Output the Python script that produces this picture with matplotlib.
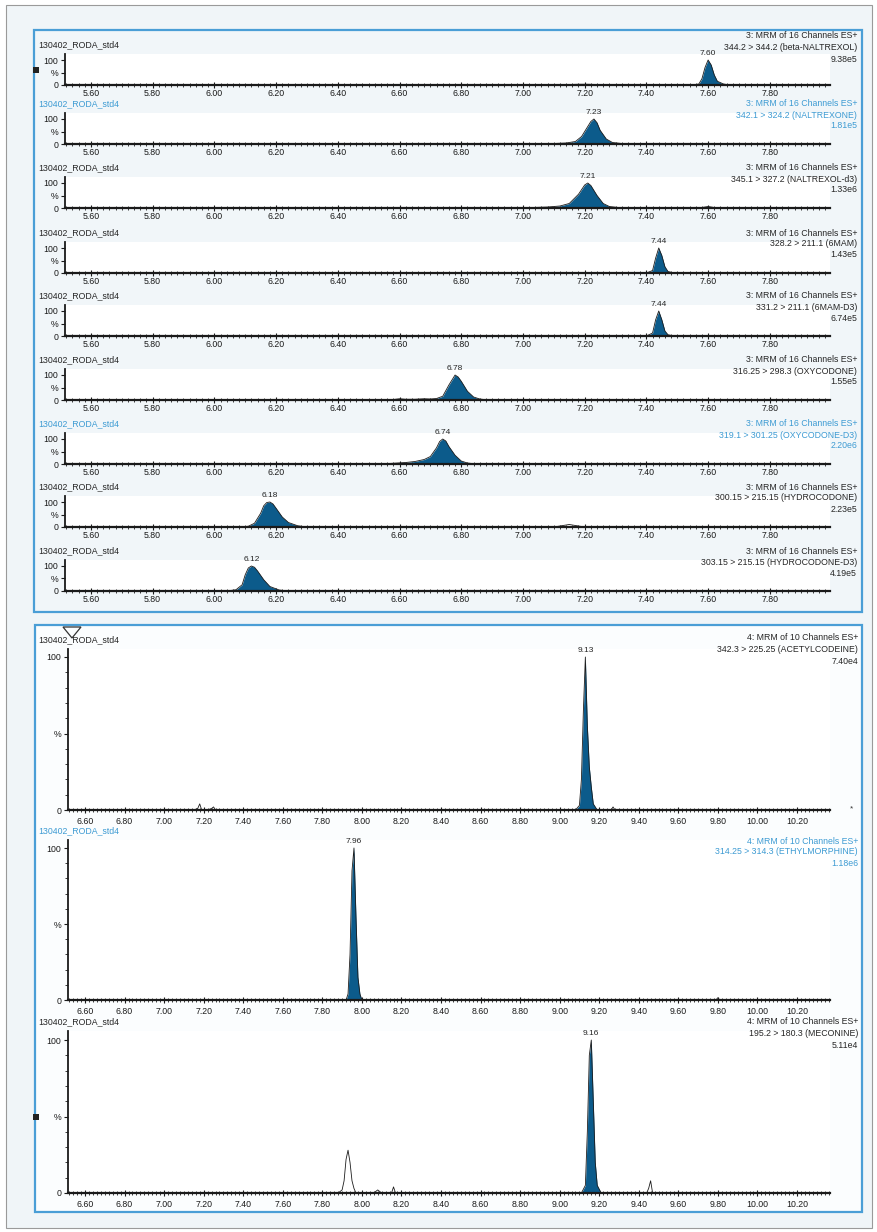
import matplotlib
matplotlib.use("Agg")
import matplotlib.pyplot as plt
from matplotlib.patches import Rectangle, Polygon
from matplotlib.ticker import MultipleLocator, FormatStrFormatter, FixedLocator
import numpy as np

plt.rcParams['font.family'] = ['Liberation Sans', 'DejaVu Sans']

W, H = 877, 1232
SAMPLE = "130402_RODA_std4"
INK = "#262626"
BLUE_TXT = "#3d9bd3"
FILL = "#0c5b8b"
FRAME = "#4a9ed6"

# ---------------- function 3: MRM of 16 channels ----------------
f3_channels = ["344.2 > 344.2 (beta-NALTREXOL)",
               "342.1 > 324.2 (NALTREXONE)",
               "345.1 > 327.2 (NALTREXOL-d3)",
               "328.2 > 211.1 (6MAM)",
               "331.2 > 211.1 (6MAM-D3)",
               "316.25 > 298.3 (OXYCODONE)",
               "319.1 > 301.25 (OXYCODONE-D3)",
               "300.15 > 215.15 (HYDROCODONE)",
               "303.15 > 215.15 (HYDROCODONE-D3)"]
f3_scale = ["9.38e5", "1.81e5", "1.33e6", "1.43e5", "6.74e5",
            "1.55e5", "2.20e6", "2.23e5", "4.19e5"]
f3_rt = [7.60, 7.23, 7.21, 7.44, 7.44, 6.78, 6.74, 6.18, 6.12]
f3_blue = [False, True, False, False, False, False, True, False, False]
f3_area = [(7.57, 7.66), (7.12, 7.33), (7.05, 7.31), (7.40, 7.49), (7.40, 7.49),
           (6.72, 6.88), (6.58, 6.83), (6.10, 6.28), (6.06, 6.22)]

f3_t = [
    [5.52, 7.12, 7.15, 7.18, 7.21, 7.24, 7.27, 7.55, 7.57, 7.58, 7.59, 7.60, 7.61, 7.62, 7.63, 7.65, 7.67, 8.0],
    [5.52, 7.00, 7.05, 7.10, 7.14, 7.17, 7.19, 7.21, 7.22, 7.23, 7.24, 7.25, 7.27, 7.29, 7.32, 7.36, 8.0],
    [5.52, 6.98, 7.03, 7.08, 7.12, 7.15, 7.18, 7.20, 7.21, 7.22, 7.24, 7.26, 7.28, 7.31, 7.35, 7.57, 7.60, 7.63, 8.0],
    [5.52, 7.40, 7.42, 7.43, 7.44, 7.45, 7.46, 7.47, 7.49, 8.0],
    [5.52, 7.40, 7.42, 7.43, 7.44, 7.45, 7.46, 7.47, 7.49, 8.0],
    [5.52, 6.40, 6.45, 6.50, 6.55, 6.58, 6.60, 6.62, 6.65, 6.68, 6.70, 6.72, 6.74, 6.76, 6.78, 6.79, 6.80, 6.82, 6.84, 6.86, 6.88, 6.90, 6.92, 8.0],
    [5.52, 6.50, 6.55, 6.58, 6.62, 6.65, 6.68, 6.70, 6.72, 6.73, 6.74, 6.75, 6.76, 6.78, 6.80, 6.82, 6.85, 8.0],
    [5.52, 6.08, 6.11, 6.13, 6.15, 6.16, 6.17, 6.18, 6.19, 6.20, 6.22, 6.24, 6.27, 6.30, 7.10, 7.15, 7.20, 8.0],
    [5.52, 6.04, 6.07, 6.09, 6.10, 6.11, 6.12, 6.13, 6.14, 6.16, 6.18, 6.21, 6.24, 8.0],
]
f3_i = [
    [0, 0, 2, 3, 3, 2, 0, 0, 4, 25, 70, 100, 80, 40, 15, 4, 0, 0],
    [0, 0, 1, 2, 4, 10, 30, 70, 90, 100, 85, 55, 20, 6, 2, 0, 0],
    [0, 0, 2, 4, 8, 18, 55, 92, 100, 90, 50, 18, 6, 2, 0, 0, 6, 0, 0],
    [0, 0, 10, 60, 100, 70, 25, 6, 0, 0],
    [0, 0, 12, 65, 100, 65, 20, 5, 0, 0],
    [0, 0, 1, 1, 2, 2, 5, 3, 3, 5, 4, 6, 15, 60, 100, 92, 75, 35, 12, 4, 1, 2, 0, 0],
    [0, 0, 1, 3, 6, 10, 18, 30, 65, 90, 100, 92, 70, 35, 12, 4, 0, 0],
    [0, 0, 3, 15, 55, 85, 98, 100, 92, 75, 40, 18, 5, 0, 0, 10, 0, 0],
    [0, 0, 5, 25, 65, 92, 100, 95, 80, 45, 18, 4, 0, 0],
]

# ---------------- function 4: MRM of 10 channels ----------------
f4_channels = ["342.3 > 225.25 (ACETYLCODEINE)",
               "314.25 > 314.3 (ETHYLMORPHINE)",
               "195.2 > 180.3 (MECONINE)"]
f4_scale = ["7.40e4", "1.18e6", "5.11e4"]
f4_rt = [9.13, 7.96, 9.16]
f4_blue = [False, True, False]
f4_area = [(9.09, 9.19), (7.92, 8.00), (9.11, 9.21)]

f4_t = [
    [6.514, 7.15, 7.17, 7.18, 7.19, 7.22, 7.24, 7.25, 7.26, 9.08, 9.10, 9.11, 9.12, 9.13, 9.14, 9.15, 9.16, 9.17, 9.19, 9.26, 9.27, 9.28, 10.367],
    [6.514, 7.92, 7.93, 7.94, 7.95, 7.96, 7.97, 7.98, 7.99, 8.00, 9.79, 9.80, 9.81, 10.367],
    [6.514, 7.88, 7.90, 7.91, 7.92, 7.93, 7.94, 7.95, 7.96, 7.97, 8.06, 8.08, 8.10, 8.15, 8.16, 8.17,
     9.11, 9.13, 9.14, 9.15, 9.16, 9.17, 9.18, 9.19, 9.21, 9.44, 9.45, 9.46, 9.47, 10.367],
]
f4_i = [
    [0, 0, 1, 4, 0, 0, 1, 2, 0, 0, 3, 20, 65, 100, 55, 28, 15, 4, 0, 0, 2, 0, 0],
    [0, 0, 4, 30, 85, 100, 55, 15, 4, 0, 0, 1.5, 0, 0],
    [0, 0, 2, 8, 22, 28, 20, 8, 3, 0, 0, 2, 0, 0, 4, 0,
     0, 5, 40, 90, 100, 60, 20, 5, 0, 0, 3, 8, 0, 0],
]

fig = plt.figure(figsize=(W / 100, H / 100), dpi=100)
fig.patch.set_facecolor("#ffffff")


def frac_rect(x0, y0, x1, y1):
    return [x0 / W, 1 - y1 / H, (x1 - x0) / W, (y1 - y0) / H]


def fig_text(x, y, s, **kw):
    fig.text(x / W, 1 - y / H, s, **kw)


# page and frames (kept beneath the axes)
fig.add_artist(Rectangle((6 / W, 1 - 1228 / H), 866 / W, 1223 / H, transform=fig.transFigure,
                         facecolor="#f0f5f8", edgecolor="#9a9a9a", lw=0.8, zorder=-3))
for (x0, y0, x1, y1, fc) in [(34, 30, 862, 612, "#f1f6f9"), (35, 625, 862, 1212, "#fbfdfe")]:
    fig.add_artist(Rectangle((x0 / W, 1 - y1 / H), (x1 - x0) / W, (y1 - y0) / H,
                             transform=fig.transFigure, facecolor=fc, edgecolor="none",
                             zorder=-2))
    fig.add_artist(Rectangle((x0 / W, 1 - y1 / H), (x1 - x0) / W, (y1 - y0) / H,
                             transform=fig.transFigure, facecolor="none", edgecolor=FRAME,
                             lw=1.6, zorder=5))


def style_axes(ax, xlim, ylim, major_len=4, pad=1.2):
    ax.set_xlim(*xlim)
    ax.set_ylim(*ylim)
    ax.set_facecolor("white")
    for s in ("top", "right"):
        ax.spines[s].set_visible(False)
    ax.spines["bottom"].set_linewidth(1.6)
    ax.spines["left"].set_linewidth(1.3)
    ax.spines["bottom"].set_color("#1a1a1a")
    ax.spines["left"].set_color("#1a1a1a")
    ax.xaxis.set_major_locator(MultipleLocator(0.2))
    ax.xaxis.set_minor_locator(MultipleLocator(0.02))
    ax.xaxis.set_major_formatter(FormatStrFormatter("%.2f"))
    ax.tick_params(axis="x", which="major", direction="inout", length=major_len, width=0.8,
                   labelsize=6.3, pad=pad, colors="#1a1a1a")
    ax.tick_params(axis="x", which="minor", direction="inout", length=2.6, width=0.6,
                   colors="#1a1a1a")
    ax.tick_params(axis="y", which="major", direction="out", length=3, width=0.8,
                   labelsize=6.3, pad=2, colors="#1a1a1a")
    ax.tick_params(axis="y", which="minor", direction="out", length=2, width=0.6,
                   colors="#1a1a1a")
    ax.set_yticks([0, 50, 100])
    ax.set_yticklabels(["0", "%", "100"])


def draw_trace(ax, t, y, area, rt):
    t = np.asarray(t, float)
    y = np.asarray(y, float)
    m = (t >= area[0]) & (t <= area[1])
    ax.fill_between(t, 0, y, where=m, interpolate=True, color=FILL, lw=0, zorder=2)
    ax.plot(t, y, color="#1c1c1c", lw=0.6, zorder=3, solid_joinstyle="round")
    ax.annotate(f"{rt:.2f}", xy=(rt, 100), xytext=(0, 2.5), textcoords="offset points",
                ha="center", va="bottom", fontsize=6.0, color=INK, annotation_clip=False)


# ---- function 3 panels ----
f3_head = [45, 104, 168, 233, 296, 360, 424, 487, 551]
f3_lines = [(36, 48, 60)] + [(h, h + 11, h + 22) for h in f3_head[1:]]
for k in range(9):
    h = f3_head[k]
    ax = fig.add_axes(frac_rect(65, h + 9, 830, h + 40))
    style_axes(ax, (5.516, 7.995), (0, 124))
    draw_trace(ax, f3_t[k], f3_i[k], f3_area[k], f3_rt[k])
    col = BLUE_TXT if f3_blue[k] else INK
    fig_text(38, h, SAMPLE, fontsize=6.3, color=col, va="center", ha="left")
    l1, l2, l3 = f3_lines[k]
    fig_text(857, l1, "3: MRM of 16 Channels ES+", fontsize=6.3, color=col, ha="right", va="center")
    fig_text(857, l2, f3_channels[k], fontsize=6.3, color=col, ha="right", va="center")
    fig_text(857, l3, f3_scale[k], fontsize=6.3, color=col, ha="right", va="center")

# ---- function 4 panels ----
f4_head = [640, 831, 1022]
f4_full = [657, 848, 1040]
f4_zero = [810, 1000, 1193]
f4_lines = [(637, 649, 661), (841, 852, 863), (1022, 1033, 1045)]
for k in range(3):
    h, top, zero = f4_head[k], f4_full[k], f4_zero[k]
    ytop = 100 * (zero - (h + 9)) / (zero - top)
    ax = fig.add_axes(frac_rect(68, h + 9, 830, zero))
    style_axes(ax, (6.514, 10.367), (0, ytop), major_len=4.5, pad=3.0)
    ax.yaxis.set_minor_locator(FixedLocator(np.arange(10, 100, 10)))
    draw_trace(ax, f4_t[k], f4_i[k], f4_area[k], f4_rt[k])
    col = BLUE_TXT if f4_blue[k] else INK
    fig_text(38, h, SAMPLE, fontsize=6.3, color=col, va="center", ha="left")
    l1, l2, l3 = f4_lines[k]
    fig_text(858, l1, "4: MRM of 10 Channels ES+", fontsize=6.3, color=col, ha="right", va="center")
    fig_text(858, l2, f4_channels[k], fontsize=6.3, color=col, ha="right", va="center")
    fig_text(858, l3, f4_scale[k], fontsize=6.3, color=col, ha="right", va="center")

# small markers along the frames
for (x, y) in [(36, 70), (36, 1117)]:
    fig.add_artist(Rectangle(((x - 3) / W, 1 - (y + 3) / H), 6 / W, 6 / H,
                             transform=fig.transFigure, facecolor="#222222", edgecolor="none",
                             zorder=6))
tri = np.array([[63, 627], [81, 627], [72, 638]], float)
fig.add_artist(Polygon(np.column_stack([tri[:, 0] / W, 1 - tri[:, 1] / H]), closed=True,
                       transform=fig.transFigure, facecolor="none", edgecolor="#333333", lw=0.9,
                       zorder=6))
fig_text(851, 809, "*", fontsize=6, color="#333333", ha="center", va="center")

fig.savefig("out.png", dpi=100, facecolor=fig.get_facecolor())
